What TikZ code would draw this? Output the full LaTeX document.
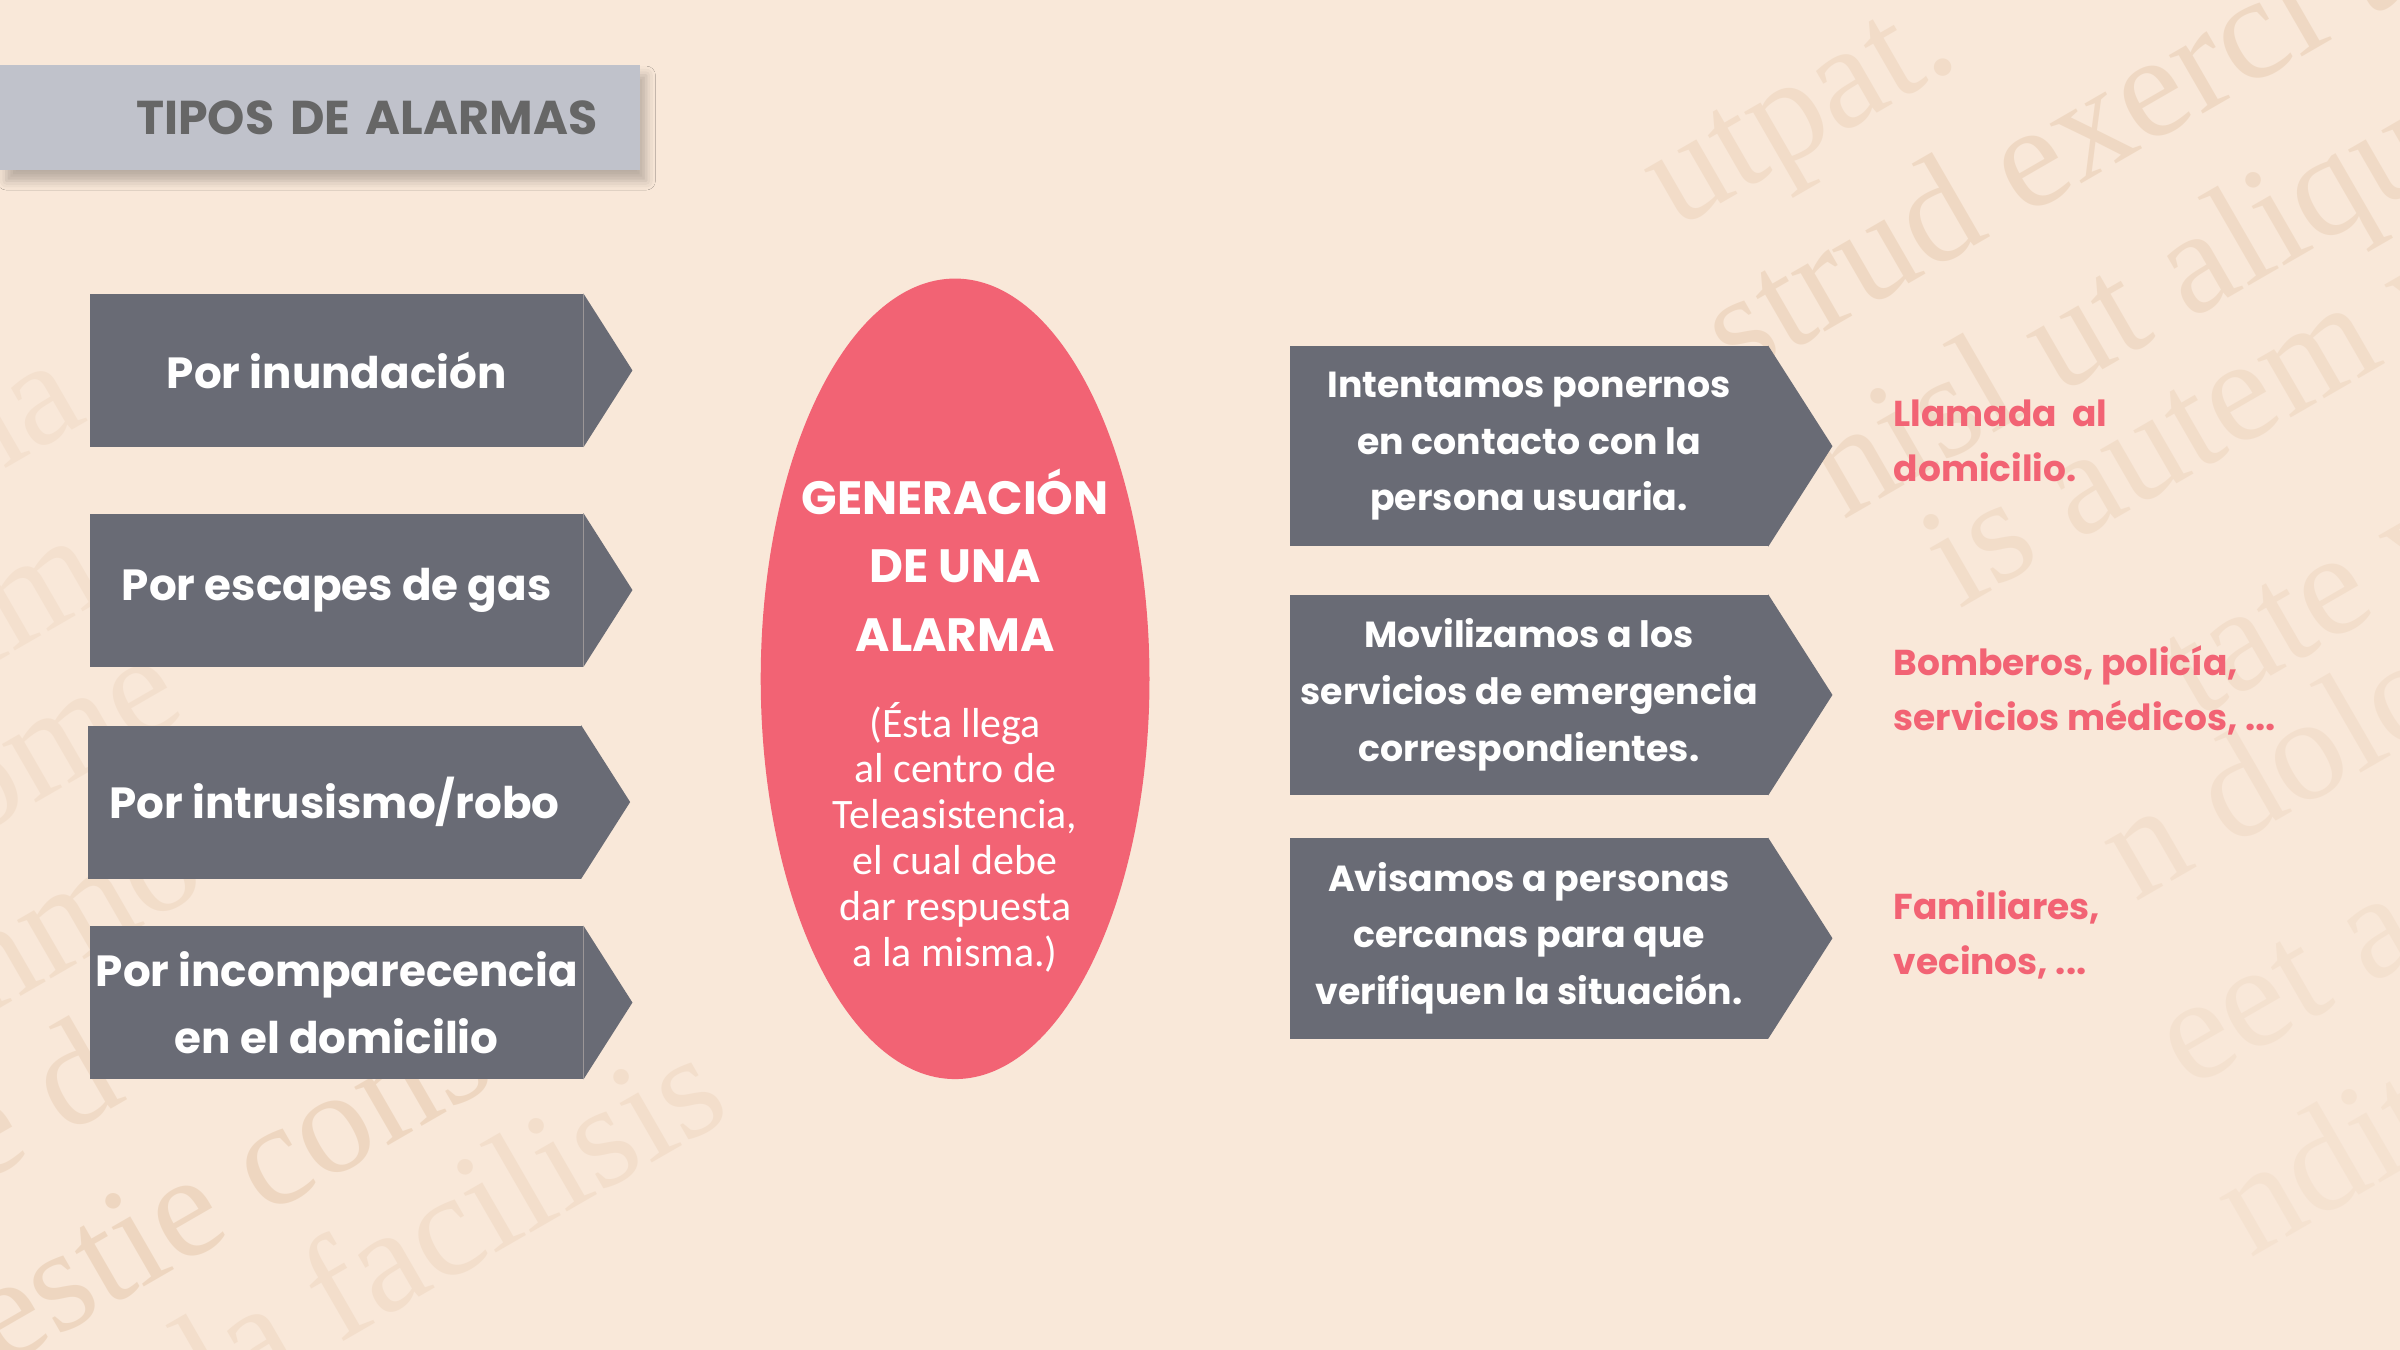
\documentclass[tikz,border=0pt]{standalone}
\usepackage{fontspec}
\setmainfont{Poppins}
\newfontfamily\notefont{Carlito}
\newfontfamily\wmfont{Liberation Serif}
\usetikzlibrary{shapes,arrows}
\usetikzlibrary{calc}
\usetikzlibrary{shadows.blur}
\usetikzlibrary{positioning}

\definecolor{bgpeach}{HTML}{F9E8D9}
\definecolor{titlegray}{HTML}{C0C2CB}
\definecolor{titletext}{HTML}{666666}
\definecolor{boxgray}{HTML}{696B75}
\definecolor{alarmpink}{HTML}{F26374}
\definecolor{wmbrown}{HTML}{E2C2A3}

\begin{document}
\begin{tikzpicture}[%
		x=1pt, y=-1pt,
		leftbox/.style={rectangle, fill=boxgray, text=white, minimum width=322pt, minimum height=100pt, inner sep=0pt, align=center, font=\fontsize{28.5}{44}\selectfont\bfseries},
		rightbox/.style={rectangle, fill=boxgray, text=white, minimum width=312pt, minimum height=131pt, inner sep=0pt, align=center, font=\fontsize{23.7}{37}\selectfont\bfseries},
		answer/.style={anchor=west, text=alarmpink, align=left, inner sep=0pt, font=\fontsize{23.5}{36}\selectfont\bfseries},
		wmtext/.style={rotate=30, anchor=base west, text=wmbrown, inner sep=0pt, font=\fontsize{96}{100}\selectfont\wmfont}
		]
		% (1568,882) page
		\useasboundingbox (0,0) rectangle (1568,882);
		\fill[bgpeach] (0,0) rectangle (1568,882);
		
		%%%%%%%%%%%%%%%
		%  WATERMARK  %
		%%%%%%%%%%%%%%%
		\begin{scope}
			\clip (0,0) rectangle (1568,882);
			% right side
			\node[wmtext, opacity=0.3] (wm1) at (1095,150) {utpat.};
			\node[wmtext, opacity=0.4] (wm2) at (1135,250) {strud exerci t};
			\node[wmtext, opacity=0.35] (wm3) at (1204,340) {nisl ut aliqu};
			\node[wmtext, opacity=0.28] (wm4) at (1280,398) {is autem v};
			\node[wmtext, opacity=0.25] (wm5) at (1435,470) {tate ve};
			\node[wmtext, opacity=0.22] (wm6) at (1395,590) {n dolo};
			\node[wmtext, opacity=0.18] (wm7) at (1430,712) {eet a};
			\node[wmtext, opacity=0.15] (wm8) at (1470,822) {ndit};
			% left side
			\node[wmtext, opacity=0.2] (wm9) at (-20,320) {na};
			\node[wmtext, opacity=0.2] (wm10) at (-15,440) {im};
			\node[wmtext, opacity=0.22] (wm11) at (-20,550) {ome};
			\node[wmtext, opacity=0.28] (wm12) at (-10,665) {nmo};
			\node[wmtext, opacity=0.35] (wm13) at (-15,775) {e d};
			\node[wmtext, opacity=0.45] (wm14) at (0,895) {estie cons};
			\node[wmtext, opacity=0.25] (wm15) at (140,925) {la facilisis};
		\end{scope}
		
		%%%%%%%%%%%%%%%
		%    NODES    %
		%%%%%%%%%%%%%%%
		% Title
		\node[fill=titlegray, anchor=north west, minimum height=69pt, text width=362pt, inner xsep=28pt, align=right,
			text=titletext, font=\fontsize{31}{36}\selectfont\bfseries,
			blur shadow={shadow xshift=4pt, shadow yshift=-7pt, shadow blur radius=6pt, shadow opacity=25}] (title) at (0,42) {TIPOS DE ALARMAS};
		
		% Types of alarm
		\node[leftbox] (inund) at (220,242) {Por inundación};
		\node[leftbox] (gas) at (220,385.5) {Por escapes de gas};
		\node[leftbox] (robo) at (218.5,524) {Por intrusismo/robo};
		\node[leftbox] (incomp) at (220,655) {Por incomparecencia\\en el domicilio};
		
		% Alarm
		\node[ellipse, fill=alarmpink, minimum width=254pt, minimum height=523pt] (alarma) at (624,443.5) {};
		\node[text=white, align=center, font=\fontsize{30.5}{45}\selectfont\bfseries] (alarmtitle) at (624,366) {GENERACIÓN\\DE UNA\\ALARMA};
		\node[text=white, align=center, font=\fontsize{27.4}{30}\selectfont\notefont] (alarmnote) at (624,547) {(Ésta llega\\al centro de\\Teleasistencia,\\el cual debe\\dar respuesta\\a la misma.)};
		
		% Actions
		\node[rightbox] (contacto) at (999,291.5) {Intentamos ponernos\\en contacto con la\\persona usuaria.};
		\node[rightbox] (servicios) at (999,454) {Movilizamos a los\\servicios de emergencia\\correspondientes.};
		\node[rightbox] (cercanas) at (999,613) {Avisamos a personas\\cercanas para que\\verifiquen la situación.};
		
		% Who
		\node[answer] (llamada) at (1237,288) {Llamada\ \ al\\domicilio.};
		\node[answer] (bomberos) at (1237,451) {Bomberos, policía,\\servicios médicos, ...};
		\node[answer] (familiares) at (1237,611) {Familiares,\\vecinos, ...};
		
		%%%%%%%%%%%%%%%
		%  POINTERS   %
		%%%%%%%%%%%%%%%
		\foreach \b in {inund,gas,robo,incomp}
		\fill[boxgray] (\b.north east) -- ([xshift=32pt]\b.east) -- (\b.south east) -- cycle;
		
		\foreach \b in {contacto,servicios,cercanas}
		\fill[boxgray] (\b.north east) -- ([xshift=42pt]\b.east) -- (\b.south east) -- cycle;
		
	\end{tikzpicture}
\end{document}
